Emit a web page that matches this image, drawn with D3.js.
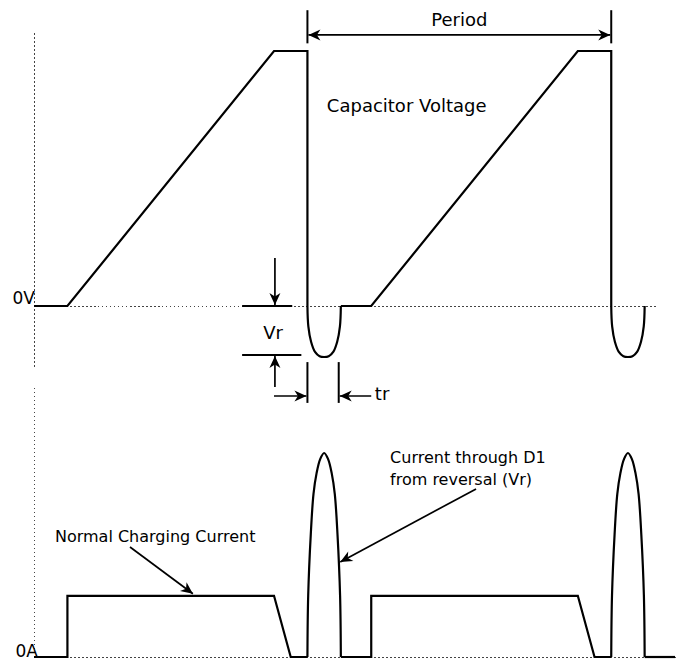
<!DOCTYPE html>
<html><head><meta charset="utf-8">
<script src="https://cdn.jsdelivr.net/npm/d3@7"></script>
<style>html,body{margin:0;padding:0;background:#fff;} svg{display:block;}</style>
</head><body>
<script>
// ---- data (time in arbitrary units, period = 10) ----
const voltageRamp1 = [[0,0],[1.1,0],[7.9,10],[9,10],[9,0]];
const voltageDip1  = [[9,0],[9.03,-0.8],[9.12,-1.4],[9.25,-1.8],[9.4,-1.97],[9.55,-2],[9.7,-1.97],[9.85,-1.8],[9.98,-1.4],[10.07,-0.8],[10.1,0]];
const voltageRamp2 = [[10.1,0],[11.1,0],[17.9,10],[19,10],[19,0]];
const voltageDip2  = [[19,0],[19.03,-0.8],[19.12,-1.4],[19.25,-1.8],[19.4,-1.97],[19.55,-2],[19.7,-1.97],[19.85,-1.8],[19.98,-1.4],[20.07,-0.8],[20.1,0]];

const currentPulse1 = [[0,0],[1.1,0],[1.1,3],[7.9,3],[8.45,0],[9,0]];
const currentSpike1 = [[9,0],[9.025,3],[9.11,6],[9.2,8],[9.3,9],[9.42,9.7],[9.55,10],[9.68,9.7],[9.8,9],[9.9,8],[9.99,6],[10.075,3],[10.1,0]];
const currentPulse2 = [[10.1,0],[11.1,0],[11.1,3],[17.9,3],[18.45,0],[19,0]];
const currentSpike2 = [[19,0],[19.025,3],[19.11,6],[19.2,8],[19.3,9],[19.42,9.7],[19.55,10],[19.68,9.7],[19.8,9],[19.9,8],[19.99,6],[20.075,3],[20.1,0]];
const currentTail   = [[20.1,0],[21.1,0]];

const axisLabels = ["0V", "0A"];
const periodSpan = [9, 19];
const trSpan = [9, 10.03];
const vrLevels = [0, -1.92];

// ---- layout ----
const W = 678, H = 659;
const xT = d3.scaleLinear().domain([0, 21]).range([34, 672]);
const yV = d3.scaleLinear().domain([-2, 10]).range([357, 51]);
const yI = d3.scaleLinear().domain([0, 10]).range([657, 453]);

const svg = d3.select("body").append("svg").attr("width", W).attr("height", H)
  .style("font-family", "'DejaVu Sans', sans-serif");
svg.append("rect").attr("width", W).attr("height", H).attr("fill", "#fff");

const defs = svg.append("defs");
defs.append("marker").attr("id", "arr").attr("viewBox", "-13 -6 14 12")
  .attr("refX", 0).attr("refY", 0).attr("markerWidth", 14).attr("markerHeight", 12)
  .attr("markerUnits", "userSpaceOnUse").attr("orient", "auto-start-reverse")
  .append("path").attr("d", "M0,0 L-12,-5.5 L-8.5,0 L-12,5.5 Z").attr("fill", "#000");

const dotted = (x1, y1, x2, y2) => svg.append("line")
  .attr("x1", x1).attr("y1", y1).attr("x2", x2).attr("y2", y2)
  .attr("stroke", "#444").attr("stroke-width", 1).attr("stroke-dasharray", "1.5,2.5")
  .attr("shape-rendering", "crispEdges");

// axes (dotted)
dotted(xT(0) + 0.5, yV(10.7), xT(0) + 0.5, yV(-2.47));
dotted(xT(0) + 0.5, yI(13.2), xT(0) + 0.5, yI(0));
dotted(xT(0), yV(0) + 0.5, xT(20.54), yV(0) + 0.5);
dotted(xT(0), yI(0) + 0.5, xT(21.17), yI(0) + 0.5);

const lineV = d3.line().x(d => xT(d[0])).y(d => yV(d[1]));
const lineI = d3.line().x(d => xT(d[0])).y(d => yI(d[1]));
const curveV = d3.line().x(d => xT(d[0])).y(d => yV(d[1])).curve(d3.curveCatmullRom);
const curveI = d3.line().x(d => xT(d[0])).y(d => yI(d[1])).curve(d3.curveCatmullRom);

const wave = (gen, data) => svg.append("path").attr("d", gen(data))
  .attr("fill", "none").attr("stroke", "#000").attr("stroke-width", 2.2)
  .attr("stroke-linejoin", "miter").attr("stroke-linecap", "butt");

wave(lineV, voltageRamp1); wave(curveV, voltageDip1);
wave(lineV, voltageRamp2); wave(curveV, voltageDip2);
wave(lineI, currentPulse1); wave(curveI, currentSpike1);
wave(lineI, currentPulse2); wave(curveI, currentSpike2);
wave(lineI, currentTail);

const seg = (x1, y1, x2, y2, w, arrowEnd, arrowStart) => {
  const l = svg.append("line").attr("x1", x1).attr("y1", y1).attr("x2", x2).attr("y2", y2)
    .attr("stroke", "#000").attr("stroke-width", w);
  if (arrowEnd) l.attr("marker-end", "url(#arr)");
  if (arrowStart) l.attr("marker-start", "url(#arr)");
  return l;
};

// Period
seg(xT(periodSpan[0]), yV(11.6), xT(periodSpan[0]), yV(10.3), 2);
seg(xT(periodSpan[1]), yV(11.6), xT(periodSpan[1]), yV(10.3), 2);
seg(xT(periodSpan[0]) + 1, yV(10.63), xT(periodSpan[1]) - 1, yV(10.63), 1.7, true, true);

// Vr
seg(xT(6.85), yV(vrLevels[0]), xT(8.5), yV(vrLevels[0]), 2);
seg(xT(6.85), yV(vrLevels[1]), xT(8.8), yV(vrLevels[1]), 2);
seg(xT(7.93), yV(1.88), xT(7.93), yV(vrLevels[0]) - 1, 1.7, true);
seg(xT(7.93), yV(-3.18), xT(7.93), yV(vrLevels[1]) + 1, 1.7, true);

// tr
seg(xT(trSpan[0]), yV(-2.2), xT(trSpan[0]), yV(-3.8), 2);
seg(xT(trSpan[1]), yV(-2.2), xT(trSpan[1]), yV(-3.8), 2);
seg(xT(7.9), yV(-3.53), xT(trSpan[0]) - 1, yV(-3.53), 1.7, true);
seg(xT(11.1), yV(-3.53), xT(trSpan[1]) + 1, yV(-3.53), 1.7, true);

// annotation arrows in current panel
seg(xT(3.16), yI(5.39), xT(5.23), yI(3.1), 1.7, true);
seg(xT(14.55), yI(8.24), xT(10.08), yI(4.66), 1.7, true);

// texts
const txt = (x, y, s, size, anchor) => svg.append("text").attr("x", x).attr("y", y)
  .attr("font-size", size).attr("text-anchor", anchor || "start").attr("fill", "#000").text(s);

txt(xT(0) + 1, yV(0) - 2, axisLabels[0], 17, "end");
txt(xT(0) + 4, yI(0), axisLabels[1], 17, "end");
txt((xT(periodSpan[0]) + xT(periodSpan[1])) / 2, yV(10.98), "Period", 18, "middle");
txt(xT(9.64), yV(7.61), "Capacitor Voltage", 18);
txt(xT(7.87), yV(-1.29), "Vr", 18, "middle");
txt(xT(11.22), yV(-3.69), "tr", 18);
txt(xT(0.69), yI(5.64), "Normal Charging Current", 16);
txt(xT(11.72), yI(9.51), "Current through D1", 16);
txt(xT(11.72), yI(8.43), "from reversal (Vr)", 16);
</script>
</body></html>
